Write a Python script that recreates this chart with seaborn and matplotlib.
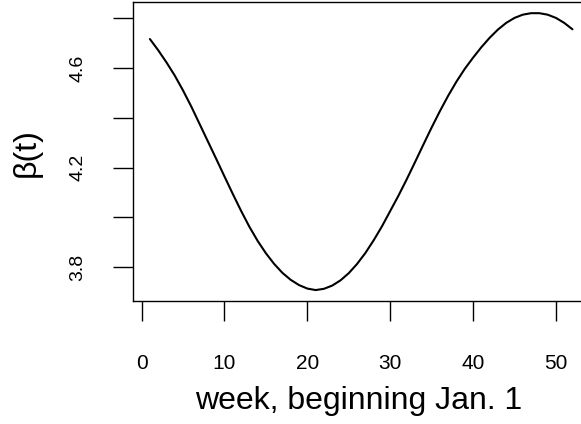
import numpy as np
import pandas as pd
import matplotlib
matplotlib.use('Agg')
import matplotlib.pyplot as plt
import seaborn as sns

# weekly transmission parameter
weeks = list(range(1, 53))
beta = [4.717, 4.672, 4.623, 4.570, 4.510, 4.445, 4.375, 4.305, 4.235, 4.164,
        4.094, 4.026, 3.962, 3.905, 3.855, 3.812, 3.776, 3.748, 3.727, 3.713,
        3.707, 3.712, 3.725, 3.746, 3.775, 3.812, 3.856, 3.907, 3.963, 4.025,
        4.087, 4.153, 4.222, 4.292, 4.361, 4.427, 4.489, 4.546, 4.597, 4.642,
        4.684, 4.722, 4.755, 4.782, 4.802, 4.815, 4.821, 4.821, 4.815, 4.802,
        4.782, 4.756]
xticks = [0, 10, 20, 30, 40, 50]
yticks = [3.8, 4.0, 4.2, 4.4, 4.6, 4.8]
ytick_labels = ['3.8', '', '4.2', '', '4.6', '']

df = pd.DataFrame({'week': weeks, 'beta': beta})

sns.set_style('ticks')
plt.rcParams['font.family'] = ['Liberation Sans', 'DejaVu Sans']
plt.rcParams['text.color'] = 'black'
plt.rcParams['xtick.color'] = 'black'
plt.rcParams['ytick.color'] = 'black'
plt.rcParams['axes.labelcolor'] = 'black'

fig = plt.figure(figsize=(5.81, 4.24), dpi=100)
# axes box runs off the right edge, like the cropped original
ax = fig.add_axes([133/581, 1 - 301/424, 456.4/581, 299/424])

sns.lineplot(data=df, x='week', y='beta', color='black', linewidth=1.5, ax=ax)

ax.set_xlim(-1.04, 54.04)
ax.set_ylim(3.663, 4.866)
ax.set_xticks(xticks)
ax.set_yticks(yticks)
ax.set_yticklabels(ytick_labels)

for s in ax.spines.values():
    s.set_visible(True)
    s.set_color('black')
    s.set_linewidth(1.0)

ax.tick_params(axis='both', direction='out', length=14.5, width=1.0, color='black')
ax.tick_params(axis='x', labelsize=15, pad=24)
ax.tick_params(axis='y', labelsize=14, pad=19, labelrotation=90)
for lab in ax.get_yticklabels():
    lab.set_va('center')

ax.set_xlabel('week, beginning Jan. 1', fontsize=23, va='center')
ax.xaxis.set_label_coords(0.495, -0.335)
ax.set_ylabel('β(t)', fontsize=23, va='center', ha='center')
ax.yaxis.set_label_coords(-0.232, 0.498)

fig.savefig('out.png', dpi=100)
